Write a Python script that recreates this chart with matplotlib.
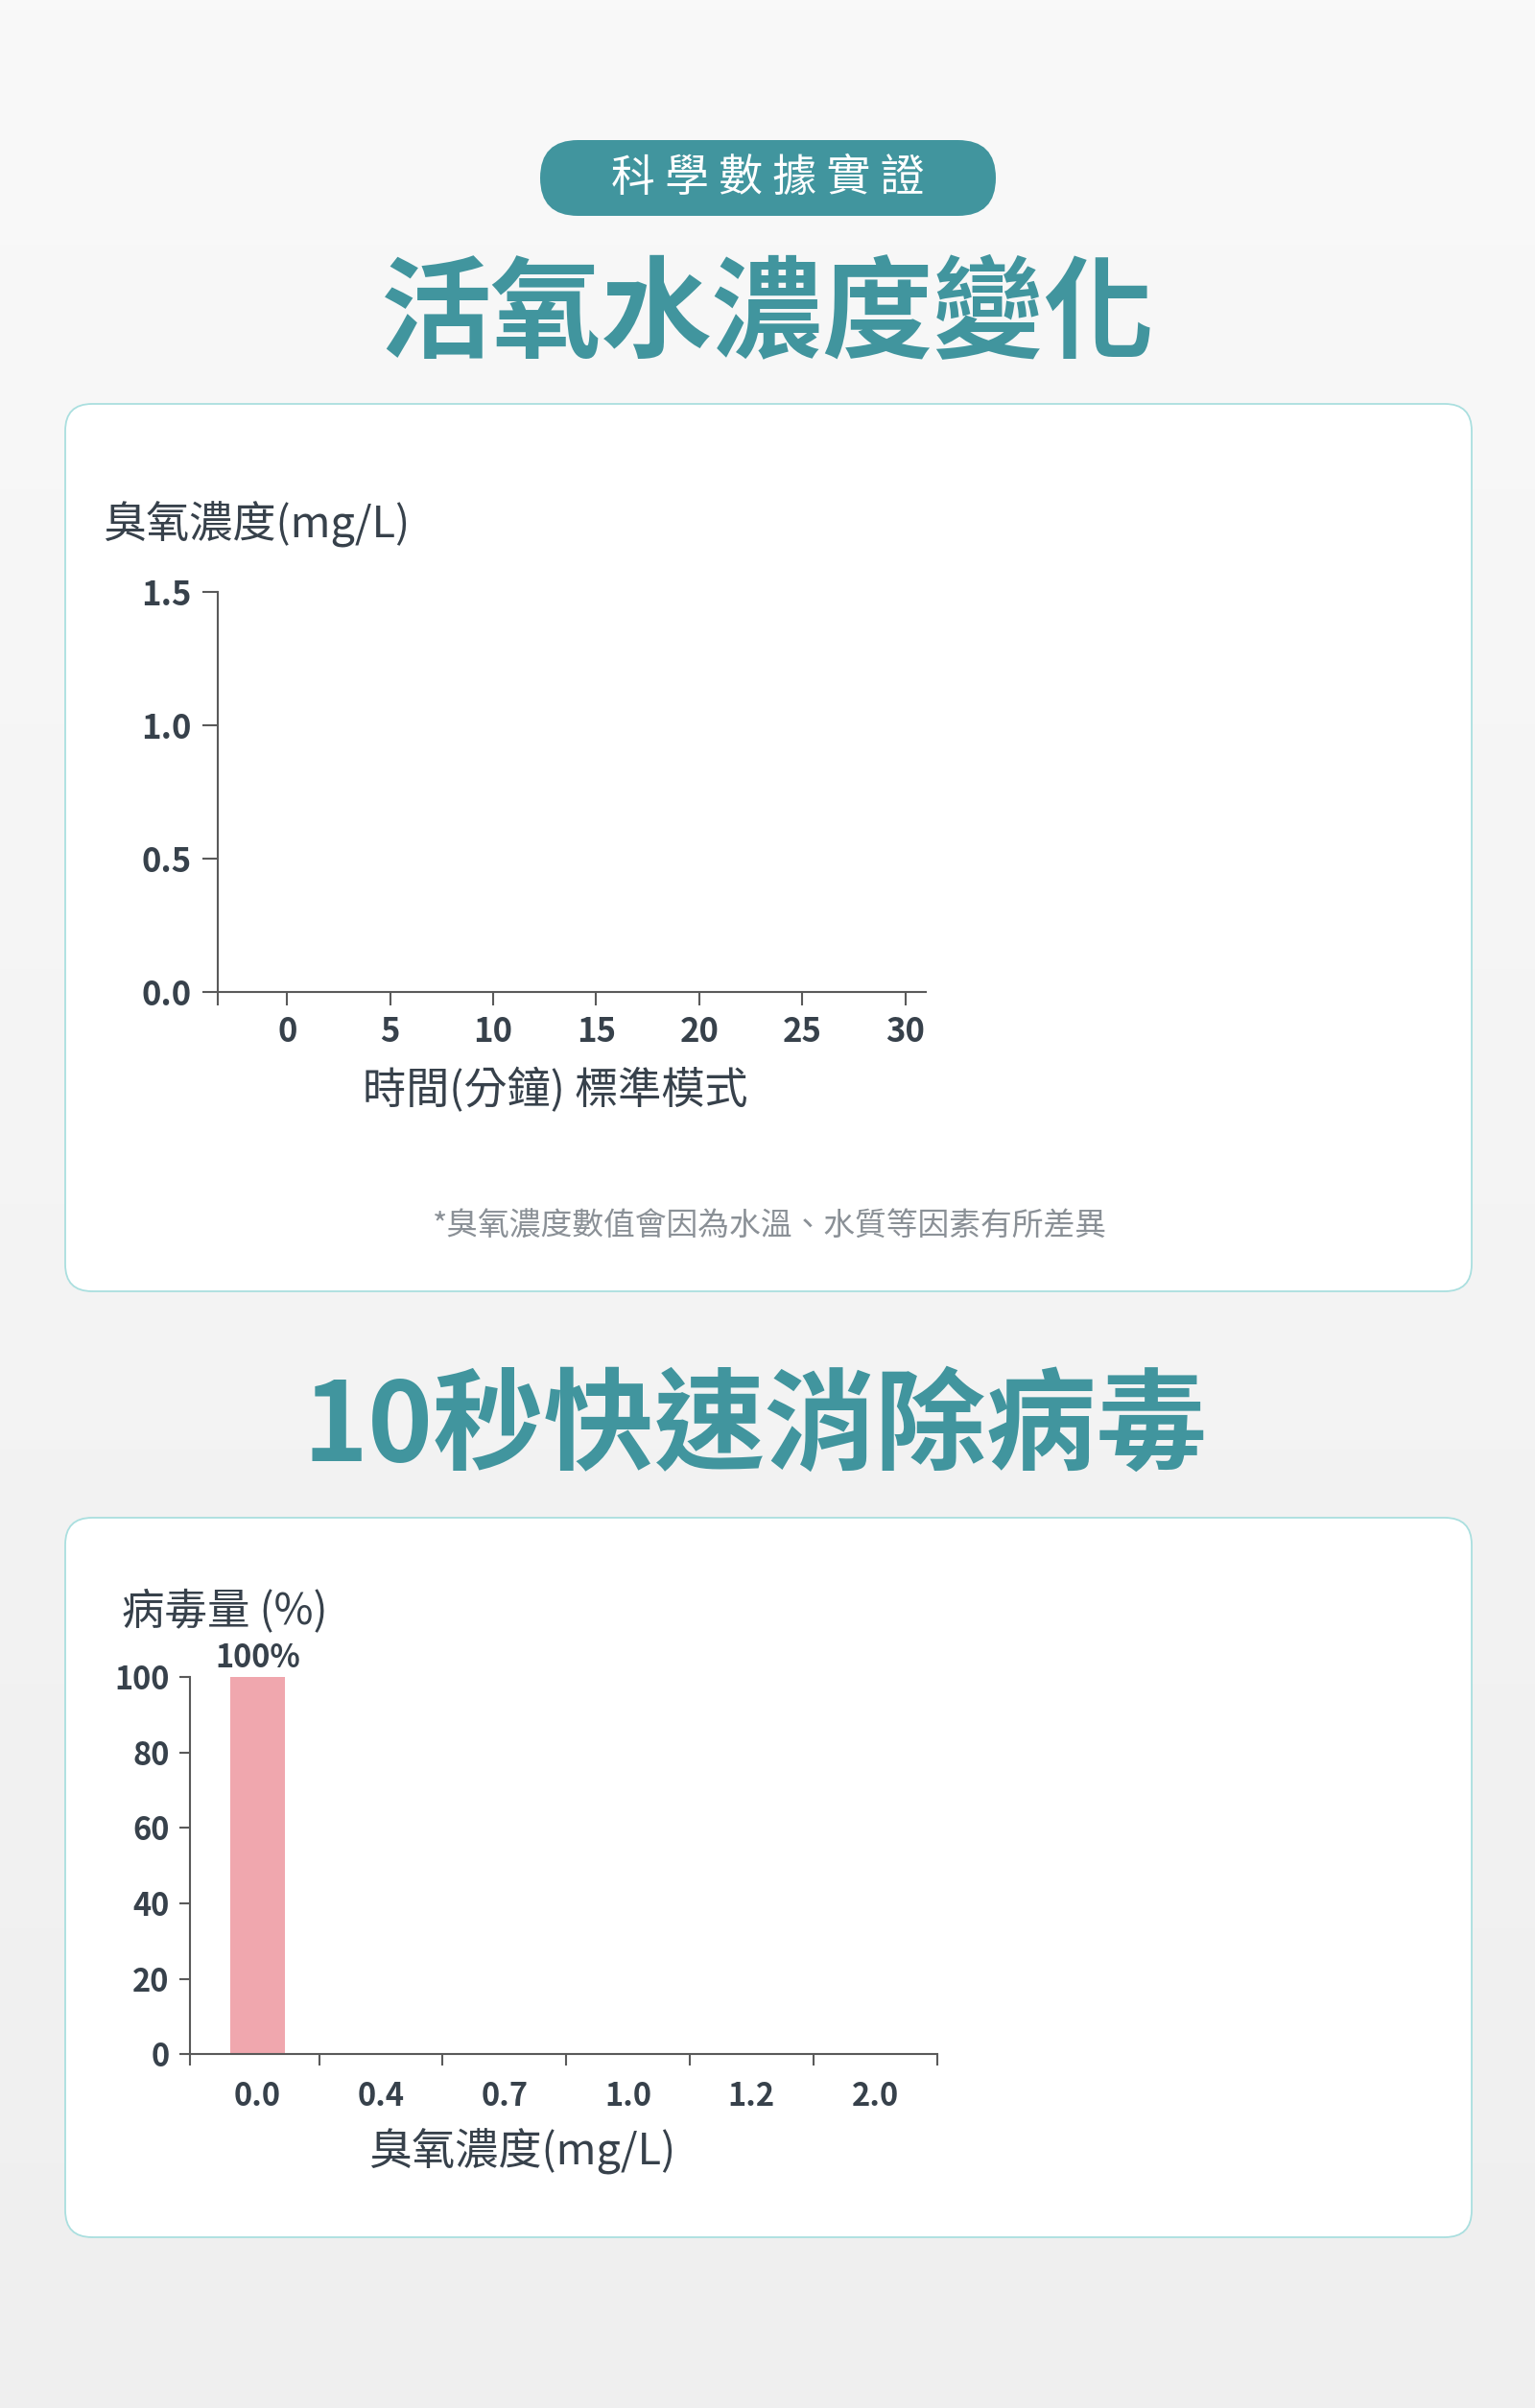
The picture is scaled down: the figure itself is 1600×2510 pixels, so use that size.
import matplotlib.pyplot as plt
import numpy as np
from matplotlib.patches import FancyBboxPatch

plt.rcParams['font.family'] = ['Noto Sans CJK TC', 'DejaVu Sans']

TEAL = '#41959e'
DARK = '#37414b'
AXIS = '#5a5a5a'
PINK = '#f0a7ae'
BORDER = '#aadfdf'

# chart 1: ozone concentration over time (only the axes are drawn)
ozone_time_ticks = [0, 5, 10, 15, 20, 25, 30]
ozone_y_ticks = [0.0, 0.5, 1.0, 1.5]

# chart 2: virus amount vs ozone concentration
ozone_levels = ['0.0', '0.4', '0.7', '1.0', '1.2', '2.0']
virus_pct = [100, 0, 0, 0, 0, 0]
virus_labels = ['100%', '', '', '', '', '']
virus_y_ticks = [0, 20, 40, 60, 80, 100]

W, H = 1600, 2510
fig = plt.figure(figsize=(W / 100, H / 100), dpi=100)

# background layer in pixel coordinates (y down)
bg = fig.add_axes([0, 0, 1, 1])
bg.set_xlim(0, W)
bg.set_ylim(H, 0)
bg.axis('off')
grad = np.linspace(0, 1, 256).reshape(-1, 1)
bg_cmap = plt.matplotlib.colors.LinearSegmentedColormap.from_list('bgc', ['#f9f9f9', '#efefef'])
bg.imshow(grad, extent=[0, W, H, 0], cmap=bg_cmap, aspect='auto', zorder=0)

def card(y0, y1):
    p = FancyBboxPatch((68, y0), 1534 - 68, y1 - y0, boxstyle='round,pad=0,rounding_size=28',
                       facecolor='white', edgecolor=BORDER, linewidth=1.3, zorder=1)
    bg.add_patch(p)

card(421, 1346)
card(1582, 2332)

# pill badge
pill = FancyBboxPatch((563, 146), 1038 - 563, 79, boxstyle='round,pad=0,rounding_size=39.5',
                      facecolor=TEAL, edgecolor='none', zorder=1)
bg.add_patch(pill)
bg.text(800, 186, '科 學 數 據 實 證', color='white', fontsize=33, fontweight='medium',
        ha='center', va='center', zorder=2)

bg.text(800, 330, '活氧水濃度變化', color=TEAL, fontsize=83, fontweight='black',
        ha='center', va='center', zorder=2)
bg.text(787, 1490, '10秒快速消除病毒', color=TEAL, fontsize=83, fontweight='black',
        ha='center', va='center', zorder=2)

bg.text(107, 547, '臭氧濃度(mg/L)', color=DARK, fontsize=32.5, fontweight='medium',
        ha='left', va='center', zorder=2)
bg.text(579, 1137, '時間(分鐘) 標準模式', color=DARK, fontsize=32.5, fontweight='medium',
        ha='center', va='center', zorder=2)
bg.text(802, 1279, '*臭氧濃度數值會因為水溫、水質等因素有所差異', color='#8a9096', fontsize=23.6,
        fontweight='light', ha='center', va='center', zorder=2)

bg.text(127, 1679, '病毒量 (%)', color=DARK, fontsize=32, fontweight='medium',
        ha='left', va='center', zorder=2)
bg.text(544, 2243, '臭氧濃度(mg/L)', color=DARK, fontsize=32.5, fontweight='medium',
        ha='center', va='center', zorder=2)


def style_axes(ax, size):
    ax.set_facecolor('none')
    for s in ['top', 'right']:
        ax.spines[s].set_visible(False)
    for s in ['left', 'bottom']:
        ax.spines[s].set_color(AXIS)
        ax.spines[s].set_linewidth(1.5)
    ax.tick_params(colors=AXIS, labelcolor=DARK, width=1.5, labelsize=size)
    for lab in ax.get_xticklabels() + ax.get_yticklabels():
        lab.set_fontweight('bold')


# ---- chart 1 ----
l, r, t, b = 226.7, 965, 616.7, 1034.3
ax1 = fig.add_axes([l / W, 1 - b / H, (r - l) / W, (b - t) / H], zorder=3)
x_left = -3.38
ax1.set_xlim(x_left, 31.0)
ax1.set_ylim(0, 1.5)
ax1.set_xticks([x_left] + ozone_time_ticks)
ax1.set_xticklabels([''] + [str(v) for v in ozone_time_ticks])
ax1.set_yticks(ozone_y_ticks)
ax1.set_yticklabels(['%.1f' % v for v in ozone_y_ticks])
style_axes(ax1, 25)
ax1.tick_params(axis='x', length=10, pad=7)
ax1.tick_params(axis='y', length=11.5, pad=8)

# ---- chart 2 ----
l, r, t, b = 197.5, 976.6, 1748, 2141.3
ax2 = fig.add_axes([l / W, 1 - b / H, (r - l) / W, (b - t) / H], zorder=3)
xs = np.arange(len(ozone_levels))
x_left2 = -0.55
ax2.set_xlim(x_left2, len(ozone_levels) - 0.5)
ax2.set_ylim(0, 100)
ax2.bar(xs, virus_pct, width=0.445, color=PINK, zorder=2)
for x, v, lab in zip(xs, virus_pct, virus_labels):
    if lab:
        ax2.annotate(lab, (x, v), xytext=(0, 7), textcoords='offset points', ha='center',
                     va='baseline', fontsize=23.5, fontweight='bold', color=DARK)
ax2.set_xticks(xs)
ax2.set_xticklabels(ozone_levels)
ax2.set_xticks([x_left2] + list(xs + 0.5), minor=True)
ax2.set_yticks(virus_y_ticks)
style_axes(ax2, 23.5)
ax2.tick_params(axis='x', which='major', length=0, pad=20)
ax2.tick_params(axis='x', which='minor', length=8.5, width=1.5, color=AXIS)
ax2.tick_params(axis='y', length=8, pad=7)

fig.savefig('out.png', dpi=100)
